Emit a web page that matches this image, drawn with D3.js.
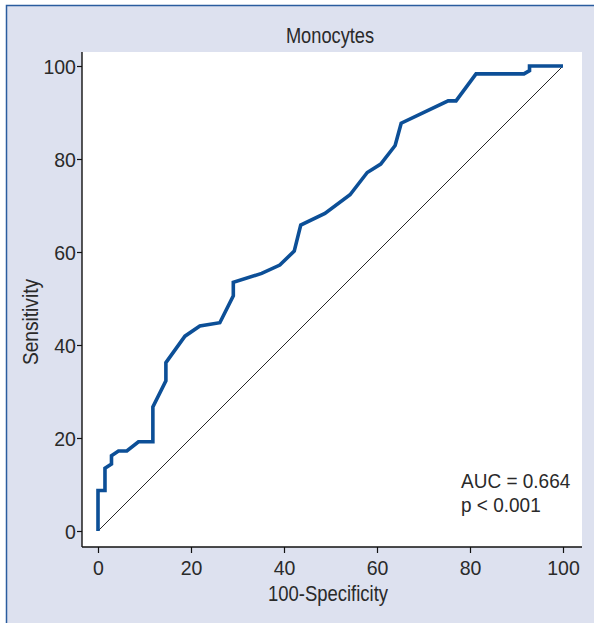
<!DOCTYPE html>
<html>
<head>
<meta charset="utf-8">
<script src="https://cdn.jsdelivr.net/npm/d3@7"></script>
<style>
  html, body { margin: 0; padding: 0; background: #ffffff; }
  svg { display: block; }
  text { font-family: "Liberation Sans Narrow", "Arial Narrow", "Liberation Sans", sans-serif; fill: #2a2a2a; }
</style>
</head>
<body>
<svg id="chart"></svg>
<script>
// ROC curve points (100-Specificity, Sensitivity)
const specificity100 = [0, 0, 1.5, 1.5, 2.9, 2.9, 4.4, 6.2, 8.7, 11.8, 11.8, 14.6, 14.6, 18.7, 21.9, 26.2, 29.1, 29.1, 35.2, 39.1, 42.2, 43.6, 48.8, 54.2, 57.9, 60.8, 63.9, 65.2, 75.3, 77.0, 81.3, 91.6, 92.8, 92.8, 100];
const sensitivity = [0, 8.7, 8.7, 13.5, 14.4, 16.2, 17.2, 17.2, 19.2, 19.2, 26.7, 32.3, 36.2, 41.9, 44.1, 44.8, 50.6, 53.5, 55.4, 57.2, 60.2, 65.8, 68.3, 72.3, 77.1, 78.9, 82.9, 87.7, 92.5, 92.5, 98.3, 98.3, 99.0, 100, 100];
const tickValues = [0, 20, 40, 60, 80, 100];
const chartTitle = "Monocytes";
const xLabel = "100-Specificity";
const yLabel = "Sensitivity";
const statLines = ["AUC = 0.664", "p < 0.001"];

const W = 594, H = 623;
const frame = { left: 82, right: 582, top: 52, bottom: 547 };

const svg = d3.select("#chart").attr("width", W).attr("height", H);

// panel background + blue border on top/left
svg.append("rect").attr("x", 6).attr("y", 5).attr("width", W - 6).attr("height", H - 5).attr("fill", "#dde1ef");
svg.append("path")
  .attr("d", `M6.5,${H} V5.5 H${W}`)
  .attr("fill", "none").attr("stroke", "#2a5c9e").attr("stroke-width", 1.5);

// white plot area
svg.append("rect")
  .attr("x", frame.left).attr("y", frame.top)
  .attr("width", frame.right - frame.left).attr("height", frame.bottom - frame.top)
  .attr("fill", "#ffffff");

const x = d3.scaleLinear().domain([0, 100]).range([98, 563]);
const y = d3.scaleLinear().domain([0, 100]).range([531, 66]);

// reference diagonal
svg.append("line")
  .attr("x1", x(0)).attr("y1", y(0)).attr("x2", x(100)).attr("y2", y(100))
  .attr("stroke", "#111").attr("stroke-width", 0.9);

// ROC curve
const pts = specificity100.map((v, i) => [v, sensitivity[i]]);
svg.append("path")
  .datum(pts)
  .attr("fill", "none")
  .attr("stroke", "#0c4f97")
  .attr("stroke-width", 3.6)
  .attr("stroke-linejoin", "miter")
  .attr("d", d3.line().x(d => x(d[0])).y(d => y(d[1])));

// axes
const xAxis = svg.append("g")
  .attr("transform", `translate(0,${frame.bottom})`)
  .call(d3.axisBottom(x).tickValues(tickValues).tickSize(6).tickPadding(7).tickSizeOuter(0));
const yAxis = svg.append("g")
  .attr("transform", `translate(${frame.left},0)`)
  .call(d3.axisLeft(y).tickValues(tickValues).tickSize(5).tickPadding(1.5).tickSizeOuter(0));

[xAxis, yAxis].forEach(g => {
  g.select(".domain").remove();
  g.selectAll(".tick line").attr("stroke", "#111").attr("stroke-width", 1.2);
  g.selectAll(".tick text").attr("font-size", 21).attr("fill", "#2a2a2a")
    .attr("transform", "scale(0.93,1)")
    .style("font-family", "'Liberation Sans Narrow', 'Arial Narrow', sans-serif");
});
yAxis.selectAll(".tick text").attr("dy", "0.36em");

// axis lines spanning the frame
svg.append("line").attr("x1", frame.left).attr("x2", frame.right)
  .attr("y1", frame.bottom).attr("y2", frame.bottom).attr("stroke", "#111").attr("stroke-width", 1.4);
svg.append("line").attr("x1", frame.left).attr("x2", frame.left)
  .attr("y1", frame.top).attr("y2", frame.bottom).attr("stroke", "#111").attr("stroke-width", 1.4);

// title and axis labels (condensed look)
svg.append("text").attr("transform", "translate(330,43) scale(0.83,1)").attr("text-anchor", "middle")
  .attr("font-size", 22).text(chartTitle);
svg.append("text").attr("transform", "translate(328,601) scale(0.84,1)").attr("text-anchor", "middle")
  .attr("font-size", 22).text(xLabel);
svg.append("text").attr("transform", "translate(38,322) rotate(-90) scale(0.87,1)").attr("text-anchor", "middle")
  .attr("font-size", 22).text(yLabel);

// AUC annotation
svg.selectAll(".stat").data(statLines).enter().append("text")
  .attr("class", "stat")
  .attr("transform", (d, i) => `translate(461,${488 + i * 24}) scale(0.95,1)`)
  .attr("font-size", 20).text(d => d);
</script>
</body>
</html>
